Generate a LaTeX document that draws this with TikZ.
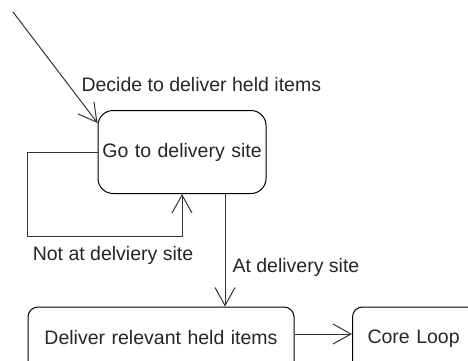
\documentclass[tikz,border=0pt]{standalone}
\usepackage{fontspec}
\setmainfont{Liberation Sans}
\usetikzlibrary{arrows.meta}
\begin{document}
\begin{tikzpicture}[x=1pt,y=-1pt,
  every node/.style={font=\fontsize{19.5}{23}\selectfont, text=black!85},
  state/.style={draw, line width=1pt, inner sep=0pt, text width=#1, align=center},
  flow/.style={draw=black!80, line width=1pt, -{Straight Barb[length=18pt,width=20pt,line width=1pt]}}]
\useasboundingbox (0,0) rectangle (468,360);
\clip (0,0) rectangle (468,360);
\node[state=168pt, minimum height=83pt, rounded corners=15pt] (go) at (182,152) {Go to delivery site};
% the lower states run past the bottom and right edges
\node[state=266pt, minimum height=66pt, rounded corners=10pt] (deliver) at (161,340) {\raisebox{6pt}{Deliver relevant held items}};
\node[draw, line width=1pt, rounded corners=10pt, inner xsep=15pt, inner ysep=0pt,
      text width=110pt, align=left, minimum height=66pt, anchor=west] (core) at (352,340) {\raisebox{6pt}{Core Loop}};
\coordinate (start) at (13,12);
% entry transition
\draw[flow] (start) -- ([yshift=-13pt]go.north west);
\node[anchor=west] (decide) at (78,85) {Decide to deliver held items};
% self loop back into the same state
\draw[flow] (go.west) -- ++(-70,0) -- ++(0,84) -| (go.south);
\node (notat) at (113,255) {Not at delviery site};
% transition down to delivery
\draw[flow] ([xshift=43pt]go.south) -- ([xshift=43pt]go.south |- deliver.north);
\node[anchor=west] (atsite) at (229,267) {At delivery site};
% on to the core loop, level with the state texts
\draw[flow] ([yshift=6pt]deliver.east) -- ([yshift=6pt]core.west);
\end{tikzpicture}
\end{document}
